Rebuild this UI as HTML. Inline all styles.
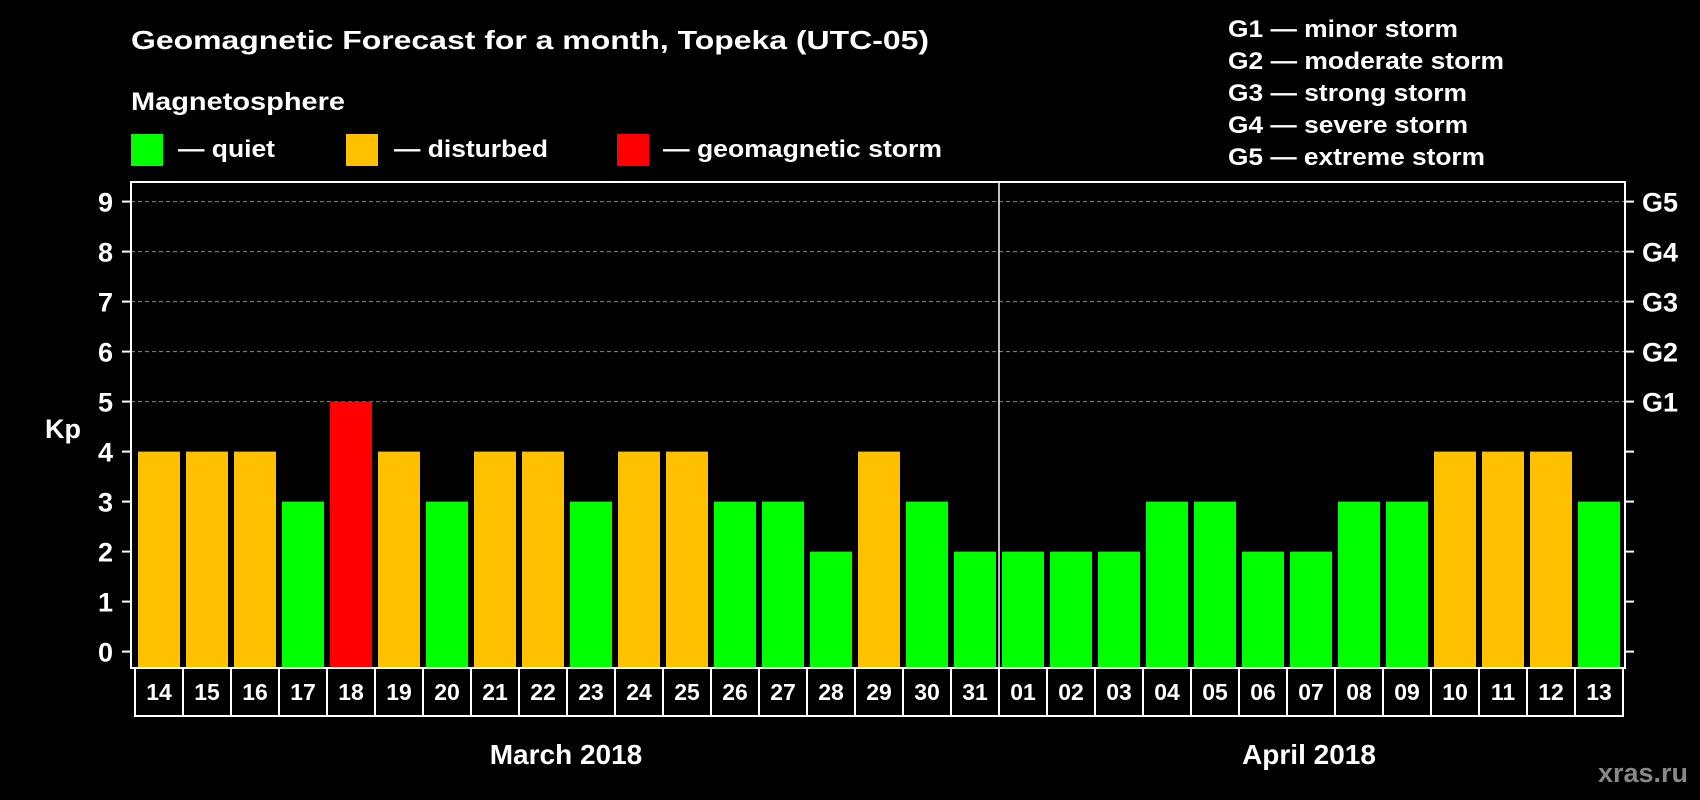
<!DOCTYPE html>
<html><head><meta charset="utf-8"><style>
html,body{margin:0;padding:0;background:#000;width:1700px;height:800px;overflow:hidden}
svg{display:block;font-family:"Liberation Sans",Arial,sans-serif;font-weight:bold}
</style></head><body>
<svg id="chart" width="1700" height="800" viewBox="0 0 1700 800">
<rect width="1700" height="800" fill="#000"/>
<text x="131" y="49" font-size="26" fill="#fff" textLength="798" lengthAdjust="spacingAndGlyphs">Geomagnetic Forecast for a month, Topeka (UTC-05)</text>
<text x="131" y="110" font-size="25" fill="#fff" textLength="214" lengthAdjust="spacingAndGlyphs">Magnetosphere</text>
<g><rect x="131" y="134" width="32" height="32" fill="#00ff00"/><text x="178" y="157" font-size="24" fill="#fff" textLength="97" lengthAdjust="spacingAndGlyphs">— quiet</text></g>
<g><rect x="346" y="134" width="32" height="32" fill="#ffc000"/><text x="394" y="157" font-size="24" fill="#fff" textLength="154" lengthAdjust="spacingAndGlyphs">— disturbed</text></g>
<g><rect x="617" y="134" width="32" height="32" fill="#ff0000"/><text x="663" y="157" font-size="24" fill="#fff" textLength="279" lengthAdjust="spacingAndGlyphs">— geomagnetic storm</text></g>
<g font-size="24" fill="#fff">
<text x="1228" y="37" textLength="230" lengthAdjust="spacingAndGlyphs">G1 — minor storm</text>
<text x="1228" y="69" textLength="276" lengthAdjust="spacingAndGlyphs">G2 — moderate storm</text>
<text x="1228" y="101" textLength="239" lengthAdjust="spacingAndGlyphs">G3 — strong storm</text>
<text x="1228" y="133" textLength="240" lengthAdjust="spacingAndGlyphs">G4 — severe storm</text>
<text x="1228" y="165" textLength="257" lengthAdjust="spacingAndGlyphs">G5 — extreme storm</text>
</g>
<text x="63" y="438" font-size="27" fill="#fff" text-anchor="middle">Kp</text>
<g id="grid"></g><g id="bars"></g><g id="axes"></g><g id="dates"></g>
<text x="566" y="764" font-size="28" fill="#fff" text-anchor="middle">March 2018</text>
<text x="1309" y="764" font-size="28" fill="#fff" text-anchor="middle">April 2018</text>
<text x="1643" y="782" font-size="27" fill="#888" text-anchor="middle">xras.ru</text>
</svg>
<script>
const dates=["14","15","16","17","18","19","20","21","22","23","24","25","26","27","28","29","30","31","01","02","03","04","05","06","07","08","09","10","11","12","13"];
const kp=[4,4,4,3,5,4,3,4,4,3,4,4,3,3,2,4,3,2,2,2,2,3,3,2,2,3,3,4,4,4,3];
const yTicks=[0,1,2,3,4,5,6,7,8,9];
const gLabels=["G1","G2","G3","G4","G5"];
const gLevels=[5,6,7,8,9];
const NS="http://www.w3.org/2000/svg";
const L=131,R=1625,T=182,B=668,cell0=135,cw=48;
const y=v=>651.6-50*v;
const xc=i=>cell0+cw*i+cw/2;
function mk(tag,attrs,parent){const e=document.createElementNS(NS,tag);for(const k in attrs)e.setAttribute(k,attrs[k]);parent.appendChild(e);return e;}
const grid=document.getElementById('grid'),bars=document.getElementById('bars'),axes=document.getElementById('axes'),dg=document.getElementById('dates');
gLevels.forEach((v,i)=>{
 const l=mk('line',{x1:L,x2:R,y1:y(v),y2:y(v),stroke:'#888','stroke-width':1,'stroke-dasharray':'4,3'},grid);
 
 
 const t=mk('text',{x:1642,y:y(v)+10,'font-size':27,fill:'#fff'},axes);t.textContent=gLabels[i];
 
 
});
kp.forEach((v,i)=>{
 const col=v>=5?'#ff0000':(v>=4?'#ffc000':'#00ff00');
 const r=mk('rect',{x:xc(i)-21,y:y(v),width:42,height:B-y(v),fill:col},bars);
 
 
});
const frame=mk('rect',{x:L,y:T,width:R-L,height:B-T,fill:'none',stroke:'#fff','stroke-width':2},axes);


const div=mk('line',{x1:cell0+cw*18,x2:cell0+cw*18,y1:T,y2:B,stroke:'#fff','stroke-width':1.5},axes);


yTicks.forEach(v=>{
 mk('line',{x1:122,x2:L,y1:y(v),y2:y(v),stroke:'#fff','stroke-width':2},axes);
 mk('line',{x1:R,x2:1634,y1:y(v),y2:y(v),stroke:'#fff','stroke-width':2},axes);
 const t=mk('text',{x:113,y:y(v)+10,'font-size':27,fill:'#fff','text-anchor':'end'},axes);t.textContent=v;
 
 
});
dates.forEach((d,i)=>{
 const c=mk('rect',{x:cell0+cw*i,y:B,width:cw,height:48,fill:'#000',stroke:'#fff','stroke-width':2},dg);
 
 
 const t=mk('text',{x:xc(i),y:700,'font-size':23,fill:'#fff','text-anchor':'middle'},dg);t.textContent=d;
 
 
});
</script>
</body></html>
